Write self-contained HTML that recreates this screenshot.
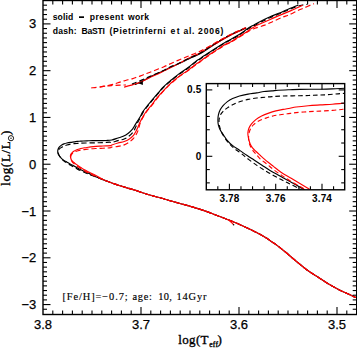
<!DOCTYPE html>
<html><head><meta charset="utf-8"><style>
html,body{margin:0;padding:0;background:#fff;}
svg{display:block;}
</style></head><body>
<svg width="357" height="348" viewBox="0 0 357 348"><defs><clipPath id="cm"><rect x="43.0" y="0.5" width="313.7" height="314.0"/></clipPath><clipPath id="ci"><rect x="206.3" y="83.6" width="138.39999999999998" height="106.20000000000002"/></clipPath></defs><rect width="357" height="348" fill="#fff"/><path d="M357.50,297.60C357.10,297.53 356.25,297.63 355.10,297.20C353.95,296.77 353.22,296.22 350.60,295.00C347.98,293.78 343.13,291.77 339.40,289.90C335.67,288.03 331.67,285.87 328.20,283.80C324.73,281.73 322.07,279.77 318.60,277.50C315.13,275.23 311.13,272.92 307.40,270.20C303.67,267.48 299.93,264.28 296.20,261.20C292.47,258.12 288.03,254.22 285.00,251.70C281.97,249.18 280.10,247.68 278.00,246.10C275.90,244.52 274.27,243.52 272.40,242.20C270.53,240.88 268.67,239.42 266.80,238.20C264.93,236.98 263.07,235.92 261.20,234.90C259.33,233.88 257.47,233.03 255.60,232.10C253.73,231.17 253.03,230.73 250.00,229.30C246.97,227.87 241.37,225.22 237.40,223.50C233.43,221.78 229.93,220.47 226.20,219.00C222.47,217.53 218.20,215.93 215.00,214.70C211.80,213.47 210.67,212.87 207.00,211.60C203.33,210.33 197.67,208.50 193.00,207.10C188.33,205.70 182.83,204.27 179.00,203.20C175.17,202.13 172.83,201.52 170.00,200.70C167.17,199.88 165.67,199.33 162.00,198.30C158.33,197.27 152.67,195.90 148.00,194.50C143.33,193.10 138.67,191.37 134.00,189.90C129.33,188.43 123.17,186.67 120.00,185.70C116.83,184.73 116.90,184.75 115.00,184.10C113.10,183.45 110.60,182.55 108.60,181.80C106.60,181.05 105.40,180.57 103.00,179.60C100.60,178.63 96.07,176.78 94.18,175.96C92.29,175.14 92.63,175.13 91.64,174.66C90.65,174.19 89.52,173.72 88.25,173.14C86.98,172.56 85.43,171.83 84.02,171.17C82.61,170.51 81.06,169.83 79.79,169.20C78.52,168.56 77.50,167.96 76.40,167.37C75.30,166.77 74.23,166.17 73.18,165.60C72.14,165.04 71.15,164.55 70.14,163.98C69.12,163.42 68.13,162.82 67.09,162.22C66.04,161.62 64.77,161.00 63.87,160.39C62.97,159.79 62.28,159.18 61.67,158.59C61.06,158.01 60.71,157.49 60.23,156.90C59.75,156.32 59.17,155.68 58.79,155.07C58.41,154.46 58.12,153.85 57.94,153.24C57.77,152.63 57.73,152.01 57.73,151.41C57.73,150.80 57.78,150.20 57.94,149.61C58.11,149.02 58.37,148.39 58.71,147.85C59.04,147.31 59.43,146.85 59.93,146.37C60.44,145.89 61.08,145.37 61.75,144.96C62.42,144.55 63.10,144.23 63.95,143.90C64.81,143.58 65.78,143.25 66.88,142.99C67.97,142.72 69.30,142.50 70.52,142.32C71.73,142.14 73.03,142.05 74.16,141.90C75.28,141.74 76.17,141.52 77.25,141.40C78.33,141.29 79.65,141.27 80.63,141.19C81.62,141.12 81.90,141.02 83.17,140.95C84.44,140.88 86.70,140.82 88.25,140.77C89.81,140.72 90.36,140.69 92.49,140.66C94.62,140.63 98.76,140.62 101.04,140.59C103.32,140.56 104.37,140.59 106.16,140.49C107.95,140.39 109.83,140.41 111.80,140.00C113.77,139.59 116.10,138.62 118.00,138.00C119.90,137.38 121.48,137.10 123.20,136.30C124.92,135.50 126.75,134.40 128.30,133.20C129.85,132.00 131.37,130.48 132.50,129.10C133.63,127.72 134.25,126.28 135.10,124.90C135.95,123.52 136.75,122.17 137.60,120.80C138.45,119.43 139.32,118.23 140.20,116.70C141.08,115.17 141.72,113.42 142.90,111.60C144.08,109.78 146.12,107.30 147.30,105.80C148.48,104.30 148.83,104.00 150.00,102.60C151.17,101.20 152.87,99.10 154.30,97.40C155.73,95.70 157.17,94.07 158.60,92.40C160.03,90.73 161.47,88.90 162.90,87.40C164.33,85.90 165.75,84.67 167.20,83.40C168.65,82.13 169.70,81.35 171.60,79.80C173.50,78.25 176.00,76.02 178.60,74.10C181.20,72.18 184.38,70.38 187.20,68.30C190.02,66.22 193.37,63.20 195.50,61.60C197.63,60.00 198.65,59.62 200.00,58.70C201.35,57.78 201.57,57.47 203.60,56.10C205.63,54.73 209.32,52.37 212.20,50.50C215.08,48.63 218.77,46.25 220.90,44.90C223.03,43.55 223.38,43.32 225.00,42.40C226.62,41.48 228.23,40.70 230.60,39.40C232.97,38.10 236.52,36.28 239.20,34.60C241.88,32.92 244.90,30.57 246.70,29.30C248.50,28.03 248.78,27.73 250.00,27.00C251.22,26.27 252.37,25.77 254.00,24.90C255.63,24.03 257.20,23.12 259.80,21.80C262.40,20.48 266.33,18.47 269.60,17.00C272.87,15.53 276.83,14.08 279.40,13.00C281.97,11.92 283.27,11.25 285.00,10.50C286.73,9.75 287.87,9.30 289.80,8.50C291.73,7.70 295.20,6.25 296.60,5.70C298.00,5.15 297.93,5.28 298.20,5.20" fill="none" stroke="#000" stroke-width="1.15" stroke-linejoin="round" clip-path="url(#cm)"/><path d="M357.50,297.60C357.10,297.53 356.25,297.63 355.10,297.20C353.95,296.77 353.22,296.22 350.60,295.00C347.98,293.78 343.13,291.77 339.40,289.90C335.67,288.03 331.67,285.87 328.20,283.80C324.73,281.73 322.07,279.77 318.60,277.50C315.13,275.23 311.13,272.92 307.40,270.20C303.67,267.48 299.93,264.28 296.20,261.20C292.47,258.12 288.03,254.22 285.00,251.70C281.97,249.18 280.10,247.68 278.00,246.10C275.90,244.52 274.27,243.52 272.40,242.20C270.53,240.88 268.67,239.42 266.80,238.20C264.93,236.98 263.07,235.92 261.20,234.90C259.33,233.88 257.47,233.03 255.60,232.10C253.73,231.17 253.03,230.73 250.00,229.30C246.97,227.87 241.37,225.22 237.40,223.50C233.43,221.78 229.93,220.47 226.20,219.00C222.47,217.53 218.20,215.93 215.00,214.70C211.80,213.47 210.67,212.87 207.00,211.60C203.33,210.33 197.67,208.50 193.00,207.10C188.33,205.70 182.83,204.27 179.00,203.20C175.17,202.13 172.83,201.52 170.00,200.70C167.17,199.88 165.67,199.33 162.00,198.30C158.33,197.27 152.67,195.90 148.00,194.50C143.33,193.10 138.67,191.37 134.00,189.90C129.33,188.43 123.17,186.67 120.00,185.70C116.83,184.73 116.90,184.75 115.00,184.10C113.10,183.45 110.60,182.55 108.60,181.80C106.60,181.05 105.76,180.64 103.00,179.60C100.24,178.56 94.44,176.47 92.06,175.57C89.69,174.67 89.71,174.59 88.76,174.20C87.82,173.81 87.17,173.54 86.39,173.21C85.61,172.89 84.99,172.65 84.10,172.26C83.22,171.87 82.17,171.41 81.06,170.89C79.94,170.37 78.53,169.69 77.42,169.13C76.30,168.56 75.48,168.14 74.37,167.51C73.25,166.87 71.84,166.03 70.73,165.32C69.61,164.62 68.70,163.93 67.68,163.28C66.66,162.63 65.50,162.05 64.59,161.41C63.68,160.78 62.92,160.14 62.22,159.47C61.52,158.81 60.93,158.12 60.40,157.43C59.87,156.74 59.39,156.02 59.04,155.32C58.70,154.61 58.46,153.88 58.32,153.20C58.19,152.53 58.16,151.87 58.24,151.27C58.32,150.67 58.55,150.09 58.83,149.61C59.11,149.13 59.45,148.78 59.93,148.38C60.42,147.97 61.08,147.56 61.75,147.18C62.42,146.80 63.10,146.45 63.95,146.09C64.81,145.73 65.78,145.35 66.88,145.03C67.97,144.71 69.30,144.41 70.52,144.19C71.73,143.96 72.96,143.82 74.16,143.69C75.35,143.56 76.59,143.49 77.67,143.41C78.75,143.33 79.29,143.27 80.63,143.20C81.98,143.13 83.78,143.04 85.76,142.99C87.73,142.94 90.42,142.92 92.49,142.88C94.55,142.84 96.26,142.80 98.16,142.74C100.06,142.68 101.98,142.63 103.87,142.53C105.77,142.43 108.23,142.15 109.55,142.14C110.87,142.14 110.39,142.76 111.80,142.50C113.21,142.24 115.93,141.18 118.00,140.60C120.07,140.02 122.30,139.80 124.20,139.00C126.10,138.20 127.85,137.05 129.40,135.80C130.95,134.55 132.47,132.93 133.50,131.50C134.53,130.07 135.02,128.45 135.60,127.20C136.18,125.95 136.57,124.93 137.00,124.00C137.43,123.07 137.60,122.73 138.20,121.60C138.80,120.47 139.77,118.77 140.60,117.20C141.43,115.63 142.05,114.02 143.20,112.20C144.35,110.38 146.33,107.83 147.50,106.30C148.67,104.77 149.03,104.42 150.20,103.00C151.37,101.58 153.07,99.50 154.50,97.80C155.93,96.10 157.37,94.47 158.80,92.80C160.23,91.13 161.67,89.30 163.10,87.80C164.53,86.30 165.95,85.07 167.40,83.80C168.85,82.53 169.90,81.75 171.80,80.20C173.70,78.65 176.20,76.42 178.80,74.50C181.40,72.58 184.58,70.78 187.40,68.70C190.22,66.62 193.57,63.60 195.70,62.00C197.83,60.40 198.85,60.02 200.20,59.10C201.55,58.18 201.77,57.87 203.80,56.50C205.83,55.13 209.52,52.77 212.40,50.90C215.28,49.03 218.97,46.65 221.10,45.30C223.23,43.95 223.58,43.72 225.20,42.80C226.82,41.88 228.43,41.10 230.80,39.80C233.17,38.50 236.72,36.67 239.40,35.00C242.08,33.33 245.10,31.02 246.90,29.80C248.70,28.58 248.98,28.38 250.20,27.70C251.42,27.02 252.57,26.55 254.20,25.70C255.83,24.85 257.40,23.92 260.00,22.60C262.60,21.28 266.53,19.27 269.80,17.80C273.07,16.33 277.03,14.88 279.60,13.80C282.17,12.72 283.47,12.07 285.20,11.30C286.93,10.53 288.03,10.02 290.00,9.20C291.97,8.38 294.92,7.10 297.00,6.40C299.08,5.70 300.80,5.33 302.50,5.00C304.20,4.67 306.42,4.50 307.20,4.40" fill="none" stroke="#000" stroke-width="1.15" stroke-linejoin="round" stroke-dasharray="5.2,2.9" clip-path="url(#cm)"/><path d="M357.50,297.60C357.10,297.53 356.25,297.63 355.10,297.20C353.95,296.77 353.22,296.22 350.60,295.00C347.98,293.78 343.13,291.77 339.40,289.90C335.67,288.03 331.67,285.87 328.20,283.80C324.73,281.73 322.07,279.77 318.60,277.50C315.13,275.23 311.13,272.92 307.40,270.20C303.67,267.48 299.93,264.28 296.20,261.20C292.47,258.12 288.03,254.22 285.00,251.70C281.97,249.18 280.10,247.68 278.00,246.10C275.90,244.52 274.27,243.52 272.40,242.20C270.53,240.88 268.67,239.42 266.80,238.20C264.93,236.98 263.07,235.92 261.20,234.90C259.33,233.88 257.47,233.03 255.60,232.10C253.73,231.17 253.03,230.73 250.00,229.30C246.97,227.87 241.37,225.22 237.40,223.50C233.43,221.78 229.93,220.47 226.20,219.00C222.47,217.53 218.20,215.93 215.00,214.70C211.80,213.47 210.67,212.87 207.00,211.60C203.33,210.33 197.67,208.50 193.00,207.10C188.33,205.70 182.83,204.27 179.00,203.20C175.17,202.13 172.83,201.52 170.00,200.70C167.17,199.88 165.67,199.33 162.00,198.30C158.33,197.27 152.67,195.90 148.00,194.50C143.33,193.10 138.67,191.37 134.00,189.90C129.33,188.43 123.17,186.67 120.00,185.70C116.83,184.73 116.90,184.75 115.00,184.10C113.10,183.45 110.60,182.55 108.60,181.80C106.60,181.05 105.04,180.61 103.00,179.60C100.96,178.59 97.92,176.59 96.34,175.71C94.76,174.84 94.77,174.96 93.50,174.34C92.24,173.72 90.27,172.73 88.76,171.98C87.25,171.23 85.69,170.53 84.44,169.83C83.19,169.13 82.15,168.36 81.27,167.79C80.39,167.22 79.77,166.82 79.15,166.41C78.53,166.00 78.11,165.73 77.54,165.32C76.97,164.91 76.33,164.41 75.72,163.95C75.12,163.48 74.46,162.99 73.90,162.54C73.35,162.09 72.79,161.69 72.38,161.27C71.97,160.85 71.70,160.47 71.45,160.00C71.19,159.54 71.01,158.98 70.85,158.49C70.70,158.00 70.59,157.52 70.52,157.08C70.45,156.64 70.38,156.30 70.43,155.85C70.49,155.39 70.60,154.84 70.85,154.33C71.11,153.83 71.47,153.32 71.96,152.82C72.44,152.31 73.06,151.77 73.78,151.30C74.49,150.84 75.32,150.42 76.23,150.03C77.14,149.65 78.23,149.31 79.24,149.01C80.25,148.71 81.27,148.45 82.28,148.24C83.30,148.02 84.34,147.87 85.33,147.71C86.33,147.55 87.34,147.43 88.25,147.29C89.17,147.15 89.55,147.01 90.84,146.86C92.12,146.72 94.26,146.53 95.96,146.41C97.66,146.28 99.34,146.21 101.04,146.12C102.74,146.04 104.54,145.97 106.16,145.88C107.78,145.78 109.79,145.71 110.73,145.56C111.67,145.41 110.59,145.43 111.80,145.00C113.01,144.57 115.93,143.58 118.00,143.00C120.07,142.42 122.30,142.18 124.20,141.50C126.10,140.82 127.85,139.93 129.40,138.90C130.95,137.87 132.38,136.60 133.50,135.30C134.62,134.00 135.32,132.57 136.10,131.10C136.88,129.63 137.52,128.05 138.20,126.50C138.88,124.95 139.35,123.53 140.20,121.80C141.05,120.07 142.35,117.73 143.30,116.10C144.25,114.47 144.82,113.50 145.90,112.00C146.98,110.50 148.83,108.27 149.80,107.10C150.77,105.93 150.67,106.32 151.70,105.00C152.73,103.68 154.57,101.02 156.00,99.20C157.43,97.38 158.85,95.75 160.30,94.10C161.75,92.45 163.12,90.97 164.70,89.30C166.28,87.63 168.08,85.70 169.80,84.10C171.52,82.50 173.53,80.95 175.00,79.70C176.47,78.45 176.57,78.07 178.60,76.60C180.63,75.13 184.38,72.92 187.20,70.90C190.02,68.88 193.37,66.07 195.50,64.50C197.63,62.93 198.65,62.45 200.00,61.50C201.35,60.55 201.57,60.25 203.60,58.80C205.63,57.35 209.32,54.73 212.20,52.80C215.08,50.87 218.77,48.57 220.90,47.20C223.03,45.83 223.38,45.48 225.00,44.60C226.62,43.72 228.23,43.25 230.60,41.90C232.97,40.55 236.32,38.33 239.20,36.50C242.08,34.67 246.02,32.15 247.90,30.90C249.78,29.65 249.48,29.67 250.50,29.00C251.52,28.33 252.45,27.72 254.00,26.90C255.55,26.08 257.20,25.30 259.80,24.10C262.40,22.90 266.33,21.15 269.60,19.70C272.87,18.25 277.33,16.28 279.40,15.40C281.47,14.52 280.07,15.20 282.00,14.40C283.93,13.60 288.57,11.65 291.00,10.60C293.43,9.55 294.65,8.98 296.60,8.10C298.55,7.22 301.68,5.77 302.70,5.30" fill="none" stroke="#f00" stroke-width="1.15" stroke-linejoin="round" clip-path="url(#cm)"/><path d="M357.50,297.60C357.10,297.53 356.25,297.63 355.10,297.20C353.95,296.77 353.22,296.22 350.60,295.00C347.98,293.78 343.13,291.77 339.40,289.90C335.67,288.03 331.67,285.87 328.20,283.80C324.73,281.73 322.07,279.77 318.60,277.50C315.13,275.23 311.13,272.92 307.40,270.20C303.67,267.48 299.93,264.28 296.20,261.20C292.47,258.12 288.03,254.22 285.00,251.70C281.97,249.18 280.10,247.68 278.00,246.10C275.90,244.52 274.27,243.52 272.40,242.20C270.53,240.88 268.67,239.42 266.80,238.20C264.93,236.98 263.07,235.92 261.20,234.90C259.33,233.88 257.47,233.03 255.60,232.10C253.73,231.17 253.03,230.73 250.00,229.30C246.97,227.87 241.37,225.22 237.40,223.50C233.43,221.78 229.93,220.47 226.20,219.00C222.47,217.53 218.20,215.93 215.00,214.70C211.80,213.47 210.67,212.87 207.00,211.60C203.33,210.33 197.67,208.50 193.00,207.10C188.33,205.70 182.83,204.27 179.00,203.20C175.17,202.13 172.83,201.52 170.00,200.70C167.17,199.88 165.67,199.33 162.00,198.30C158.33,197.27 152.67,195.90 148.00,194.50C143.33,193.10 138.67,191.37 134.00,189.90C129.33,188.43 123.17,186.67 120.00,185.70C116.83,184.73 116.90,184.75 115.00,184.10C113.10,183.45 110.60,182.55 108.60,181.80C106.60,181.05 105.30,180.56 103.00,179.60C100.70,178.64 96.71,176.88 94.82,176.03C92.92,175.18 92.87,175.08 91.64,174.48C90.41,173.88 88.60,173.02 87.45,172.44C86.30,171.85 85.75,171.53 84.74,170.96C83.73,170.38 82.43,169.64 81.40,168.99C80.36,168.33 79.48,167.66 78.52,167.01C77.55,166.37 76.37,165.70 75.60,165.11C74.83,164.52 74.43,164.00 73.90,163.49C73.37,162.98 72.84,162.54 72.42,162.05C72.00,161.55 71.67,161.06 71.41,160.53C71.14,160.00 70.93,159.45 70.81,158.88C70.70,158.30 70.69,157.61 70.73,157.08C70.76,156.54 70.87,156.13 71.02,155.67C71.18,155.21 71.36,154.77 71.66,154.33C71.96,153.90 72.29,153.49 72.84,153.06C73.40,152.64 74.14,152.18 75.00,151.80C75.87,151.41 77.04,151.07 78.05,150.77C79.06,150.48 80.05,150.23 81.06,150.03C82.07,149.83 83.09,149.71 84.10,149.58C85.12,149.45 86.03,149.38 87.15,149.26C88.27,149.14 89.37,148.96 90.84,148.84C92.30,148.71 94.26,148.61 95.96,148.52C97.66,148.43 99.34,148.38 101.04,148.31C102.74,148.23 104.54,148.17 106.16,148.06C107.78,147.96 109.79,147.83 110.73,147.67C111.67,147.51 110.59,147.31 111.80,147.10C113.01,146.89 115.93,146.77 118.00,146.40C120.07,146.03 122.30,145.63 124.20,144.90C126.10,144.17 127.85,143.08 129.40,142.00C130.95,140.92 132.30,139.78 133.50,138.40C134.70,137.02 135.82,135.08 136.60,133.70C137.38,132.32 137.77,131.30 138.20,130.10C138.63,128.90 138.80,127.85 139.20,126.50C139.60,125.15 139.87,123.70 140.60,122.00C141.33,120.30 142.67,117.93 143.60,116.30C144.53,114.67 145.12,113.70 146.20,112.20C147.28,110.70 149.13,108.47 150.10,107.30C151.07,106.13 150.97,106.52 152.00,105.20C153.03,103.88 154.87,101.22 156.30,99.40C157.73,97.58 159.15,95.95 160.60,94.30C162.05,92.65 163.42,91.17 165.00,89.50C166.58,87.83 168.38,85.90 170.10,84.30C171.82,82.70 173.83,81.15 175.30,79.90C176.77,78.65 176.87,78.27 178.90,76.80C180.93,75.33 184.68,73.12 187.50,71.10C190.32,69.08 193.67,66.27 195.80,64.70C197.93,63.13 198.95,62.65 200.30,61.70C201.65,60.75 201.87,60.45 203.90,59.00C205.93,57.55 209.62,54.93 212.50,53.00C215.38,51.07 219.07,48.77 221.20,47.40C223.33,46.03 223.68,45.67 225.30,44.80C226.92,43.93 228.53,43.52 230.90,42.20C233.27,40.88 236.62,38.68 239.50,36.90C242.38,35.12 246.28,32.65 248.20,31.50C250.12,30.35 249.87,30.53 251.00,30.00C252.13,29.47 252.72,29.12 255.00,28.30C257.28,27.48 261.78,26.20 264.70,25.10C267.62,24.00 269.62,22.98 272.50,21.70C275.38,20.42 279.30,18.52 282.00,17.40C284.70,16.28 286.27,16.03 288.70,15.00C291.13,13.97 293.98,12.40 296.60,11.20C299.22,10.00 301.78,8.95 304.40,7.80C307.02,6.65 310.70,5.00 312.30,4.30C313.90,3.60 313.72,3.72 314.00,3.60" fill="none" stroke="#f00" stroke-width="1.15" stroke-linejoin="round" stroke-dasharray="5.2,2.9" clip-path="url(#cm)"/><path d="M134.80,84.60C135.47,84.30 137.50,83.40 138.80,82.80C140.10,82.20 141.20,81.73 142.60,81.00C144.00,80.27 145.63,79.25 147.20,78.40C148.77,77.55 150.22,76.77 152.00,75.90C153.78,75.03 155.90,74.08 157.90,73.20C159.90,72.32 161.98,71.57 164.00,70.60C166.02,69.63 167.67,68.50 170.00,67.40C172.33,66.30 175.13,65.30 178.00,64.00C180.87,62.70 184.87,60.72 187.20,59.60C189.53,58.48 189.87,58.28 192.00,57.30C194.13,56.32 196.63,55.60 200.00,53.70C203.37,51.80 208.53,48.22 212.20,45.90C215.87,43.58 218.93,41.62 222.00,39.80C225.07,37.98 227.73,36.47 230.60,35.00C233.47,33.53 236.60,32.18 239.20,31.00C241.80,29.82 245.03,28.42 246.20,27.90" fill="none" stroke="#000" stroke-width="1.15" stroke-linejoin="round" clip-path="url(#cm)"/><path d="M124.10,87.10C125.15,86.82 128.62,85.92 130.40,85.40C132.18,84.88 133.40,84.42 134.80,84.00C136.20,83.58 137.43,83.38 138.80,82.90C140.17,82.42 141.60,81.73 143.00,81.10C144.40,80.47 145.70,79.85 147.20,79.10C148.70,78.35 150.22,77.45 152.00,76.60C153.78,75.75 155.95,74.92 157.90,74.00C159.85,73.08 161.78,72.05 163.70,71.10C165.62,70.15 167.02,69.50 169.40,68.30C171.78,67.10 174.23,65.85 178.00,63.90C181.77,61.95 188.33,58.43 192.00,56.60C195.67,54.77 196.63,54.73 200.00,52.90C203.37,51.07 208.53,47.77 212.20,45.60C215.87,43.43 218.93,41.63 222.00,39.90C225.07,38.17 227.73,36.65 230.60,35.20C233.47,33.75 236.63,32.40 239.20,31.20C241.77,30.00 244.87,28.53 246.00,28.00" fill="none" stroke="#f00" stroke-width="1.15" stroke-linejoin="round" clip-path="url(#cm)"/><path d="M131.90,84.00C132.38,83.83 133.67,83.43 134.80,83.00C135.93,82.57 137.07,82.10 138.70,81.40C140.33,80.70 142.72,79.63 144.60,78.80C146.48,77.97 147.78,77.37 150.00,76.40C152.22,75.43 155.57,74.02 157.90,73.00C160.23,71.98 161.98,71.28 164.00,70.30C166.02,69.32 167.67,68.20 170.00,67.10C172.33,66.00 175.13,65.02 178.00,63.70C180.87,62.38 184.87,60.32 187.20,59.20C189.53,58.08 189.87,58.00 192.00,57.00C194.13,56.00 196.63,55.13 200.00,53.20C203.37,51.27 208.53,47.70 212.20,45.40C215.87,43.10 218.93,41.18 222.00,39.40C225.07,37.62 227.73,36.13 230.60,34.70C233.47,33.27 236.63,31.97 239.20,30.80C241.77,29.63 244.87,28.22 246.00,27.70" fill="none" stroke="#000" stroke-width="1.15" stroke-linejoin="round" stroke-dasharray="5.2,2.9" clip-path="url(#cm)"/><path d="M100.00,87.10C101.00,86.92 104.03,86.42 106.00,86.00C107.97,85.58 110.18,85.02 111.80,84.60C113.42,84.18 114.33,83.92 115.70,83.50C117.07,83.08 118.60,82.53 120.00,82.10C121.40,81.67 122.77,81.30 124.10,80.90C125.43,80.50 126.55,80.08 128.00,79.70C129.45,79.32 131.33,79.03 132.80,78.60C134.27,78.17 135.48,77.55 136.80,77.10C138.12,76.65 139.33,76.40 140.70,75.90C142.07,75.40 143.45,74.70 145.00,74.10C146.55,73.50 148.00,73.07 150.00,72.30C152.00,71.53 154.67,70.43 157.00,69.50C159.33,68.57 161.67,67.70 164.00,66.70C166.33,65.70 168.67,64.55 171.00,63.50C173.33,62.45 175.67,61.40 178.00,60.40C180.33,59.40 182.67,58.47 185.00,57.50C187.33,56.53 189.50,55.63 192.00,54.60C194.50,53.57 196.63,52.97 200.00,51.30C203.37,49.63 208.53,46.65 212.20,44.60C215.87,42.55 218.93,40.70 222.00,39.00C225.07,37.30 227.73,35.82 230.60,34.40C233.47,32.98 236.67,31.67 239.20,30.50C241.73,29.33 244.70,27.92 245.80,27.40" fill="none" stroke="#f00" stroke-width="1.15" stroke-linejoin="round" stroke-dasharray="5.2,2.9" clip-path="url(#cm)"/><path d="M91.30,87.90C92.38,87.78 95.55,87.50 97.80,87.20C100.05,86.90 102.35,86.38 104.80,86.10C107.25,85.82 109.93,85.67 112.50,85.50C115.07,85.33 117.95,85.18 120.20,85.10C122.45,85.02 125.03,85.02 126.00,85.00" fill="none" stroke="#f00" stroke-width="1.15" stroke-linejoin="round" stroke-dasharray="5.2,2.9" clip-path="url(#cm)"/><path d="M228.20,219.60C228.67,220.02 230.12,221.28 231.00,222.10C231.88,222.92 233.08,224.10 233.50,224.50" fill="none" stroke="#f00" stroke-width="1.1" stroke-linejoin="round"/><circle cx="233.6" cy="224.7" r="0.8" fill="#000"/><path d="M138.3,83.3 L142.9,81.0 L142.9,85.0 Z" fill="#000"/><rect x="43.0" y="0.5" width="313.7" height="314.0" fill="none" stroke="#000" stroke-width="1.4"/><line x1="43.00" y1="309.25" x2="47.00" y2="309.25" stroke="#000" stroke-width="1.1"/><line x1="356.70" y1="309.25" x2="352.70" y2="309.25" stroke="#000" stroke-width="1.1"/><line x1="43.00" y1="304.57" x2="50.50" y2="304.57" stroke="#000" stroke-width="1.1"/><line x1="356.70" y1="304.57" x2="349.20" y2="304.57" stroke="#000" stroke-width="1.1"/><line x1="43.00" y1="299.89" x2="47.00" y2="299.89" stroke="#000" stroke-width="1.1"/><line x1="356.70" y1="299.89" x2="352.70" y2="299.89" stroke="#000" stroke-width="1.1"/><line x1="43.00" y1="295.21" x2="47.00" y2="295.21" stroke="#000" stroke-width="1.1"/><line x1="356.70" y1="295.21" x2="352.70" y2="295.21" stroke="#000" stroke-width="1.1"/><line x1="43.00" y1="290.54" x2="47.00" y2="290.54" stroke="#000" stroke-width="1.1"/><line x1="356.70" y1="290.54" x2="352.70" y2="290.54" stroke="#000" stroke-width="1.1"/><line x1="43.00" y1="285.86" x2="47.00" y2="285.86" stroke="#000" stroke-width="1.1"/><line x1="356.70" y1="285.86" x2="352.70" y2="285.86" stroke="#000" stroke-width="1.1"/><line x1="43.00" y1="281.18" x2="47.00" y2="281.18" stroke="#000" stroke-width="1.1"/><line x1="356.70" y1="281.18" x2="352.70" y2="281.18" stroke="#000" stroke-width="1.1"/><line x1="43.00" y1="276.50" x2="47.00" y2="276.50" stroke="#000" stroke-width="1.1"/><line x1="356.70" y1="276.50" x2="352.70" y2="276.50" stroke="#000" stroke-width="1.1"/><line x1="43.00" y1="271.82" x2="47.00" y2="271.82" stroke="#000" stroke-width="1.1"/><line x1="356.70" y1="271.82" x2="352.70" y2="271.82" stroke="#000" stroke-width="1.1"/><line x1="43.00" y1="267.15" x2="47.00" y2="267.15" stroke="#000" stroke-width="1.1"/><line x1="356.70" y1="267.15" x2="352.70" y2="267.15" stroke="#000" stroke-width="1.1"/><line x1="43.00" y1="262.47" x2="47.00" y2="262.47" stroke="#000" stroke-width="1.1"/><line x1="356.70" y1="262.47" x2="352.70" y2="262.47" stroke="#000" stroke-width="1.1"/><line x1="43.00" y1="257.79" x2="50.50" y2="257.79" stroke="#000" stroke-width="1.1"/><line x1="356.70" y1="257.79" x2="349.20" y2="257.79" stroke="#000" stroke-width="1.1"/><line x1="43.00" y1="253.11" x2="47.00" y2="253.11" stroke="#000" stroke-width="1.1"/><line x1="356.70" y1="253.11" x2="352.70" y2="253.11" stroke="#000" stroke-width="1.1"/><line x1="43.00" y1="248.43" x2="47.00" y2="248.43" stroke="#000" stroke-width="1.1"/><line x1="356.70" y1="248.43" x2="352.70" y2="248.43" stroke="#000" stroke-width="1.1"/><line x1="43.00" y1="243.76" x2="47.00" y2="243.76" stroke="#000" stroke-width="1.1"/><line x1="356.70" y1="243.76" x2="352.70" y2="243.76" stroke="#000" stroke-width="1.1"/><line x1="43.00" y1="239.08" x2="47.00" y2="239.08" stroke="#000" stroke-width="1.1"/><line x1="356.70" y1="239.08" x2="352.70" y2="239.08" stroke="#000" stroke-width="1.1"/><line x1="43.00" y1="234.40" x2="47.00" y2="234.40" stroke="#000" stroke-width="1.1"/><line x1="356.70" y1="234.40" x2="352.70" y2="234.40" stroke="#000" stroke-width="1.1"/><line x1="43.00" y1="229.72" x2="47.00" y2="229.72" stroke="#000" stroke-width="1.1"/><line x1="356.70" y1="229.72" x2="352.70" y2="229.72" stroke="#000" stroke-width="1.1"/><line x1="43.00" y1="225.04" x2="47.00" y2="225.04" stroke="#000" stroke-width="1.1"/><line x1="356.70" y1="225.04" x2="352.70" y2="225.04" stroke="#000" stroke-width="1.1"/><line x1="43.00" y1="220.37" x2="47.00" y2="220.37" stroke="#000" stroke-width="1.1"/><line x1="356.70" y1="220.37" x2="352.70" y2="220.37" stroke="#000" stroke-width="1.1"/><line x1="43.00" y1="215.69" x2="47.00" y2="215.69" stroke="#000" stroke-width="1.1"/><line x1="356.70" y1="215.69" x2="352.70" y2="215.69" stroke="#000" stroke-width="1.1"/><line x1="43.00" y1="211.01" x2="50.50" y2="211.01" stroke="#000" stroke-width="1.1"/><line x1="356.70" y1="211.01" x2="349.20" y2="211.01" stroke="#000" stroke-width="1.1"/><line x1="43.00" y1="206.33" x2="47.00" y2="206.33" stroke="#000" stroke-width="1.1"/><line x1="356.70" y1="206.33" x2="352.70" y2="206.33" stroke="#000" stroke-width="1.1"/><line x1="43.00" y1="201.65" x2="47.00" y2="201.65" stroke="#000" stroke-width="1.1"/><line x1="356.70" y1="201.65" x2="352.70" y2="201.65" stroke="#000" stroke-width="1.1"/><line x1="43.00" y1="196.98" x2="47.00" y2="196.98" stroke="#000" stroke-width="1.1"/><line x1="356.70" y1="196.98" x2="352.70" y2="196.98" stroke="#000" stroke-width="1.1"/><line x1="43.00" y1="192.30" x2="47.00" y2="192.30" stroke="#000" stroke-width="1.1"/><line x1="356.70" y1="192.30" x2="352.70" y2="192.30" stroke="#000" stroke-width="1.1"/><line x1="43.00" y1="187.62" x2="47.00" y2="187.62" stroke="#000" stroke-width="1.1"/><line x1="356.70" y1="187.62" x2="352.70" y2="187.62" stroke="#000" stroke-width="1.1"/><line x1="43.00" y1="182.94" x2="47.00" y2="182.94" stroke="#000" stroke-width="1.1"/><line x1="356.70" y1="182.94" x2="352.70" y2="182.94" stroke="#000" stroke-width="1.1"/><line x1="43.00" y1="178.26" x2="47.00" y2="178.26" stroke="#000" stroke-width="1.1"/><line x1="356.70" y1="178.26" x2="352.70" y2="178.26" stroke="#000" stroke-width="1.1"/><line x1="43.00" y1="173.59" x2="47.00" y2="173.59" stroke="#000" stroke-width="1.1"/><line x1="356.70" y1="173.59" x2="352.70" y2="173.59" stroke="#000" stroke-width="1.1"/><line x1="43.00" y1="168.91" x2="47.00" y2="168.91" stroke="#000" stroke-width="1.1"/><line x1="356.70" y1="168.91" x2="352.70" y2="168.91" stroke="#000" stroke-width="1.1"/><line x1="43.00" y1="164.23" x2="50.50" y2="164.23" stroke="#000" stroke-width="1.1"/><line x1="356.70" y1="164.23" x2="349.20" y2="164.23" stroke="#000" stroke-width="1.1"/><line x1="43.00" y1="159.55" x2="47.00" y2="159.55" stroke="#000" stroke-width="1.1"/><line x1="356.70" y1="159.55" x2="352.70" y2="159.55" stroke="#000" stroke-width="1.1"/><line x1="43.00" y1="154.87" x2="47.00" y2="154.87" stroke="#000" stroke-width="1.1"/><line x1="356.70" y1="154.87" x2="352.70" y2="154.87" stroke="#000" stroke-width="1.1"/><line x1="43.00" y1="150.20" x2="47.00" y2="150.20" stroke="#000" stroke-width="1.1"/><line x1="356.70" y1="150.20" x2="352.70" y2="150.20" stroke="#000" stroke-width="1.1"/><line x1="43.00" y1="145.52" x2="47.00" y2="145.52" stroke="#000" stroke-width="1.1"/><line x1="356.70" y1="145.52" x2="352.70" y2="145.52" stroke="#000" stroke-width="1.1"/><line x1="43.00" y1="140.84" x2="47.00" y2="140.84" stroke="#000" stroke-width="1.1"/><line x1="356.70" y1="140.84" x2="352.70" y2="140.84" stroke="#000" stroke-width="1.1"/><line x1="43.00" y1="136.16" x2="47.00" y2="136.16" stroke="#000" stroke-width="1.1"/><line x1="356.70" y1="136.16" x2="352.70" y2="136.16" stroke="#000" stroke-width="1.1"/><line x1="43.00" y1="131.48" x2="47.00" y2="131.48" stroke="#000" stroke-width="1.1"/><line x1="356.70" y1="131.48" x2="352.70" y2="131.48" stroke="#000" stroke-width="1.1"/><line x1="43.00" y1="126.81" x2="47.00" y2="126.81" stroke="#000" stroke-width="1.1"/><line x1="356.70" y1="126.81" x2="352.70" y2="126.81" stroke="#000" stroke-width="1.1"/><line x1="43.00" y1="122.13" x2="47.00" y2="122.13" stroke="#000" stroke-width="1.1"/><line x1="356.70" y1="122.13" x2="352.70" y2="122.13" stroke="#000" stroke-width="1.1"/><line x1="43.00" y1="117.45" x2="50.50" y2="117.45" stroke="#000" stroke-width="1.1"/><line x1="356.70" y1="117.45" x2="349.20" y2="117.45" stroke="#000" stroke-width="1.1"/><line x1="43.00" y1="112.77" x2="47.00" y2="112.77" stroke="#000" stroke-width="1.1"/><line x1="356.70" y1="112.77" x2="352.70" y2="112.77" stroke="#000" stroke-width="1.1"/><line x1="43.00" y1="108.09" x2="47.00" y2="108.09" stroke="#000" stroke-width="1.1"/><line x1="356.70" y1="108.09" x2="352.70" y2="108.09" stroke="#000" stroke-width="1.1"/><line x1="43.00" y1="103.42" x2="47.00" y2="103.42" stroke="#000" stroke-width="1.1"/><line x1="356.70" y1="103.42" x2="352.70" y2="103.42" stroke="#000" stroke-width="1.1"/><line x1="43.00" y1="98.74" x2="47.00" y2="98.74" stroke="#000" stroke-width="1.1"/><line x1="356.70" y1="98.74" x2="352.70" y2="98.74" stroke="#000" stroke-width="1.1"/><line x1="43.00" y1="94.06" x2="47.00" y2="94.06" stroke="#000" stroke-width="1.1"/><line x1="356.70" y1="94.06" x2="352.70" y2="94.06" stroke="#000" stroke-width="1.1"/><line x1="43.00" y1="89.38" x2="47.00" y2="89.38" stroke="#000" stroke-width="1.1"/><line x1="356.70" y1="89.38" x2="352.70" y2="89.38" stroke="#000" stroke-width="1.1"/><line x1="43.00" y1="84.70" x2="47.00" y2="84.70" stroke="#000" stroke-width="1.1"/><line x1="356.70" y1="84.70" x2="352.70" y2="84.70" stroke="#000" stroke-width="1.1"/><line x1="43.00" y1="80.03" x2="47.00" y2="80.03" stroke="#000" stroke-width="1.1"/><line x1="356.70" y1="80.03" x2="352.70" y2="80.03" stroke="#000" stroke-width="1.1"/><line x1="43.00" y1="75.35" x2="47.00" y2="75.35" stroke="#000" stroke-width="1.1"/><line x1="356.70" y1="75.35" x2="352.70" y2="75.35" stroke="#000" stroke-width="1.1"/><line x1="43.00" y1="70.67" x2="50.50" y2="70.67" stroke="#000" stroke-width="1.1"/><line x1="356.70" y1="70.67" x2="349.20" y2="70.67" stroke="#000" stroke-width="1.1"/><line x1="43.00" y1="65.99" x2="47.00" y2="65.99" stroke="#000" stroke-width="1.1"/><line x1="356.70" y1="65.99" x2="352.70" y2="65.99" stroke="#000" stroke-width="1.1"/><line x1="43.00" y1="61.31" x2="47.00" y2="61.31" stroke="#000" stroke-width="1.1"/><line x1="356.70" y1="61.31" x2="352.70" y2="61.31" stroke="#000" stroke-width="1.1"/><line x1="43.00" y1="56.64" x2="47.00" y2="56.64" stroke="#000" stroke-width="1.1"/><line x1="356.70" y1="56.64" x2="352.70" y2="56.64" stroke="#000" stroke-width="1.1"/><line x1="43.00" y1="51.96" x2="47.00" y2="51.96" stroke="#000" stroke-width="1.1"/><line x1="356.70" y1="51.96" x2="352.70" y2="51.96" stroke="#000" stroke-width="1.1"/><line x1="43.00" y1="47.28" x2="47.00" y2="47.28" stroke="#000" stroke-width="1.1"/><line x1="356.70" y1="47.28" x2="352.70" y2="47.28" stroke="#000" stroke-width="1.1"/><line x1="43.00" y1="42.60" x2="47.00" y2="42.60" stroke="#000" stroke-width="1.1"/><line x1="356.70" y1="42.60" x2="352.70" y2="42.60" stroke="#000" stroke-width="1.1"/><line x1="43.00" y1="37.92" x2="47.00" y2="37.92" stroke="#000" stroke-width="1.1"/><line x1="356.70" y1="37.92" x2="352.70" y2="37.92" stroke="#000" stroke-width="1.1"/><line x1="43.00" y1="33.25" x2="47.00" y2="33.25" stroke="#000" stroke-width="1.1"/><line x1="356.70" y1="33.25" x2="352.70" y2="33.25" stroke="#000" stroke-width="1.1"/><line x1="43.00" y1="28.57" x2="47.00" y2="28.57" stroke="#000" stroke-width="1.1"/><line x1="356.70" y1="28.57" x2="352.70" y2="28.57" stroke="#000" stroke-width="1.1"/><line x1="43.00" y1="23.89" x2="50.50" y2="23.89" stroke="#000" stroke-width="1.1"/><line x1="356.70" y1="23.89" x2="349.20" y2="23.89" stroke="#000" stroke-width="1.1"/><line x1="43.00" y1="19.21" x2="47.00" y2="19.21" stroke="#000" stroke-width="1.1"/><line x1="356.70" y1="19.21" x2="352.70" y2="19.21" stroke="#000" stroke-width="1.1"/><line x1="43.00" y1="14.53" x2="47.00" y2="14.53" stroke="#000" stroke-width="1.1"/><line x1="356.70" y1="14.53" x2="352.70" y2="14.53" stroke="#000" stroke-width="1.1"/><line x1="43.00" y1="9.86" x2="47.00" y2="9.86" stroke="#000" stroke-width="1.1"/><line x1="356.70" y1="9.86" x2="352.70" y2="9.86" stroke="#000" stroke-width="1.1"/><line x1="43.00" y1="5.18" x2="47.00" y2="5.18" stroke="#000" stroke-width="1.1"/><line x1="356.70" y1="5.18" x2="352.70" y2="5.18" stroke="#000" stroke-width="1.1"/><line x1="346.80" y1="314.50" x2="346.80" y2="310.50" stroke="#000" stroke-width="1.1"/><line x1="346.80" y1="0.50" x2="346.80" y2="4.50" stroke="#000" stroke-width="1.1"/><line x1="337.00" y1="314.50" x2="337.00" y2="307.00" stroke="#000" stroke-width="1.1"/><line x1="337.00" y1="0.50" x2="337.00" y2="8.00" stroke="#000" stroke-width="1.1"/><line x1="327.20" y1="314.50" x2="327.20" y2="310.50" stroke="#000" stroke-width="1.1"/><line x1="327.20" y1="0.50" x2="327.20" y2="4.50" stroke="#000" stroke-width="1.1"/><line x1="317.40" y1="314.50" x2="317.40" y2="310.50" stroke="#000" stroke-width="1.1"/><line x1="317.40" y1="0.50" x2="317.40" y2="4.50" stroke="#000" stroke-width="1.1"/><line x1="307.60" y1="314.50" x2="307.60" y2="310.50" stroke="#000" stroke-width="1.1"/><line x1="307.60" y1="0.50" x2="307.60" y2="4.50" stroke="#000" stroke-width="1.1"/><line x1="297.80" y1="314.50" x2="297.80" y2="310.50" stroke="#000" stroke-width="1.1"/><line x1="297.80" y1="0.50" x2="297.80" y2="4.50" stroke="#000" stroke-width="1.1"/><line x1="288.00" y1="314.50" x2="288.00" y2="310.50" stroke="#000" stroke-width="1.1"/><line x1="288.00" y1="0.50" x2="288.00" y2="4.50" stroke="#000" stroke-width="1.1"/><line x1="278.20" y1="314.50" x2="278.20" y2="310.50" stroke="#000" stroke-width="1.1"/><line x1="278.20" y1="0.50" x2="278.20" y2="4.50" stroke="#000" stroke-width="1.1"/><line x1="268.40" y1="314.50" x2="268.40" y2="310.50" stroke="#000" stroke-width="1.1"/><line x1="268.40" y1="0.50" x2="268.40" y2="4.50" stroke="#000" stroke-width="1.1"/><line x1="258.60" y1="314.50" x2="258.60" y2="310.50" stroke="#000" stroke-width="1.1"/><line x1="258.60" y1="0.50" x2="258.60" y2="4.50" stroke="#000" stroke-width="1.1"/><line x1="248.80" y1="314.50" x2="248.80" y2="310.50" stroke="#000" stroke-width="1.1"/><line x1="248.80" y1="0.50" x2="248.80" y2="4.50" stroke="#000" stroke-width="1.1"/><line x1="239.00" y1="314.50" x2="239.00" y2="307.00" stroke="#000" stroke-width="1.1"/><line x1="239.00" y1="0.50" x2="239.00" y2="8.00" stroke="#000" stroke-width="1.1"/><line x1="229.20" y1="314.50" x2="229.20" y2="310.50" stroke="#000" stroke-width="1.1"/><line x1="229.20" y1="0.50" x2="229.20" y2="4.50" stroke="#000" stroke-width="1.1"/><line x1="219.40" y1="314.50" x2="219.40" y2="310.50" stroke="#000" stroke-width="1.1"/><line x1="219.40" y1="0.50" x2="219.40" y2="4.50" stroke="#000" stroke-width="1.1"/><line x1="209.60" y1="314.50" x2="209.60" y2="310.50" stroke="#000" stroke-width="1.1"/><line x1="209.60" y1="0.50" x2="209.60" y2="4.50" stroke="#000" stroke-width="1.1"/><line x1="199.80" y1="314.50" x2="199.80" y2="310.50" stroke="#000" stroke-width="1.1"/><line x1="199.80" y1="0.50" x2="199.80" y2="4.50" stroke="#000" stroke-width="1.1"/><line x1="190.00" y1="314.50" x2="190.00" y2="310.50" stroke="#000" stroke-width="1.1"/><line x1="190.00" y1="0.50" x2="190.00" y2="4.50" stroke="#000" stroke-width="1.1"/><line x1="180.20" y1="314.50" x2="180.20" y2="310.50" stroke="#000" stroke-width="1.1"/><line x1="180.20" y1="0.50" x2="180.20" y2="4.50" stroke="#000" stroke-width="1.1"/><line x1="170.40" y1="314.50" x2="170.40" y2="310.50" stroke="#000" stroke-width="1.1"/><line x1="170.40" y1="0.50" x2="170.40" y2="4.50" stroke="#000" stroke-width="1.1"/><line x1="160.60" y1="314.50" x2="160.60" y2="310.50" stroke="#000" stroke-width="1.1"/><line x1="160.60" y1="0.50" x2="160.60" y2="4.50" stroke="#000" stroke-width="1.1"/><line x1="150.80" y1="314.50" x2="150.80" y2="310.50" stroke="#000" stroke-width="1.1"/><line x1="150.80" y1="0.50" x2="150.80" y2="4.50" stroke="#000" stroke-width="1.1"/><line x1="141.00" y1="314.50" x2="141.00" y2="307.00" stroke="#000" stroke-width="1.1"/><line x1="141.00" y1="0.50" x2="141.00" y2="8.00" stroke="#000" stroke-width="1.1"/><line x1="131.20" y1="314.50" x2="131.20" y2="310.50" stroke="#000" stroke-width="1.1"/><line x1="131.20" y1="0.50" x2="131.20" y2="4.50" stroke="#000" stroke-width="1.1"/><line x1="121.40" y1="314.50" x2="121.40" y2="310.50" stroke="#000" stroke-width="1.1"/><line x1="121.40" y1="0.50" x2="121.40" y2="4.50" stroke="#000" stroke-width="1.1"/><line x1="111.60" y1="314.50" x2="111.60" y2="310.50" stroke="#000" stroke-width="1.1"/><line x1="111.60" y1="0.50" x2="111.60" y2="4.50" stroke="#000" stroke-width="1.1"/><line x1="101.80" y1="314.50" x2="101.80" y2="310.50" stroke="#000" stroke-width="1.1"/><line x1="101.80" y1="0.50" x2="101.80" y2="4.50" stroke="#000" stroke-width="1.1"/><line x1="92.00" y1="314.50" x2="92.00" y2="310.50" stroke="#000" stroke-width="1.1"/><line x1="92.00" y1="0.50" x2="92.00" y2="4.50" stroke="#000" stroke-width="1.1"/><line x1="82.20" y1="314.50" x2="82.20" y2="310.50" stroke="#000" stroke-width="1.1"/><line x1="82.20" y1="0.50" x2="82.20" y2="4.50" stroke="#000" stroke-width="1.1"/><line x1="72.40" y1="314.50" x2="72.40" y2="310.50" stroke="#000" stroke-width="1.1"/><line x1="72.40" y1="0.50" x2="72.40" y2="4.50" stroke="#000" stroke-width="1.1"/><line x1="62.60" y1="314.50" x2="62.60" y2="310.50" stroke="#000" stroke-width="1.1"/><line x1="62.60" y1="0.50" x2="62.60" y2="4.50" stroke="#000" stroke-width="1.1"/><line x1="52.80" y1="314.50" x2="52.80" y2="310.50" stroke="#000" stroke-width="1.1"/><line x1="52.80" y1="0.50" x2="52.80" y2="4.50" stroke="#000" stroke-width="1.1"/><rect x="206.3" y="83.6" width="138.39999999999998" height="106.20000000000002" fill="#fff" stroke="none"/><path d="M309.00,192.50C308.17,192.02 305.83,190.70 304.00,189.60C302.17,188.50 300.33,187.23 298.00,185.90C295.67,184.57 293.00,183.25 290.00,181.60C287.00,179.95 283.33,177.87 280.00,176.00C276.67,174.13 273.00,172.20 270.00,170.40C267.00,168.60 264.60,166.90 262.00,165.20C259.40,163.50 256.87,161.80 254.40,160.20C251.93,158.60 249.60,157.20 247.20,155.60C244.80,154.00 242.47,152.30 240.00,150.60C237.53,148.90 234.53,147.12 232.40,145.40C230.27,143.68 228.63,141.95 227.20,140.30C225.77,138.65 224.93,137.17 223.80,135.50C222.67,133.83 221.30,132.03 220.40,130.30C219.50,128.57 218.82,126.83 218.40,125.10C217.98,123.37 217.90,121.62 217.90,119.90C217.90,118.18 218.02,116.48 218.40,114.80C218.78,113.12 219.42,111.33 220.20,109.80C220.98,108.27 221.90,106.97 223.10,105.60C224.30,104.23 225.82,102.77 227.40,101.60C228.98,100.43 230.58,99.53 232.60,98.60C234.62,97.67 236.92,96.75 239.50,96.00C242.08,95.25 245.23,94.62 248.10,94.10C250.97,93.58 254.05,93.33 256.70,92.90C259.35,92.47 261.45,91.83 264.00,91.50C266.55,91.17 269.67,91.12 272.00,90.90C274.33,90.68 275.00,90.40 278.00,90.20C281.00,90.00 286.33,89.83 290.00,89.70C293.67,89.57 294.97,89.48 300.00,89.40C305.03,89.32 314.82,89.28 320.20,89.20C325.58,89.12 328.22,89.05 332.30,88.90C336.38,88.75 341.42,88.45 344.70,88.30C347.98,88.15 350.78,88.05 352.00,88.00" fill="none" stroke="#000" stroke-width="1.15" stroke-linejoin="round" clip-path="url(#ci)"/><path d="M303.00,191.50C302.33,191.00 300.97,189.65 299.00,188.50C297.03,187.35 293.43,185.72 291.20,184.60C288.97,183.48 287.43,182.72 285.60,181.80C283.77,180.88 282.30,180.20 280.20,179.10C278.10,178.00 275.63,176.68 273.00,175.20C270.37,173.72 267.03,171.80 264.40,170.20C261.77,168.60 259.83,167.40 257.20,165.60C254.57,163.80 251.23,161.40 248.60,159.40C245.97,157.40 243.82,155.45 241.40,153.60C238.98,151.75 236.25,150.10 234.10,148.30C231.95,146.50 230.15,144.68 228.50,142.80C226.85,140.92 225.45,138.97 224.20,137.00C222.95,135.03 221.82,133.00 221.00,131.00C220.18,129.00 219.62,126.92 219.30,125.00C218.98,123.08 218.90,121.20 219.10,119.50C219.30,117.80 219.83,116.17 220.50,114.80C221.17,113.43 221.95,112.45 223.10,111.30C224.25,110.15 225.82,108.98 227.40,107.90C228.98,106.82 230.58,105.82 232.60,104.80C234.62,103.78 236.92,102.70 239.50,101.80C242.08,100.90 245.23,100.03 248.10,99.40C250.97,98.77 253.88,98.37 256.70,98.00C259.52,97.63 262.45,97.43 265.00,97.20C267.55,96.97 268.82,96.80 272.00,96.60C275.18,96.40 279.43,96.15 284.10,96.00C288.77,95.85 295.12,95.82 300.00,95.70C304.88,95.58 308.92,95.47 313.40,95.30C317.88,95.13 322.42,94.98 326.90,94.70C331.38,94.42 336.12,93.87 340.30,93.60C344.48,93.33 350.05,93.18 352.00,93.10" fill="none" stroke="#000" stroke-width="1.15" stroke-linejoin="round" stroke-dasharray="4.6,2.9" clip-path="url(#ci)"/><path d="M314.00,192.00C313.18,191.48 311.03,190.07 309.10,188.90C307.17,187.73 305.38,186.77 302.40,185.00C299.42,183.23 294.77,180.43 291.20,178.30C287.63,176.17 283.95,174.18 281.00,172.20C278.05,170.22 275.58,168.02 273.50,166.40C271.42,164.78 269.97,163.67 268.50,162.50C267.03,161.33 266.05,160.57 264.70,159.40C263.35,158.23 261.83,156.82 260.40,155.50C258.97,154.18 257.42,152.77 256.10,151.50C254.78,150.23 253.47,149.10 252.50,147.90C251.53,146.70 250.90,145.62 250.30,144.30C249.70,142.98 249.27,141.38 248.90,140.00C248.53,138.62 248.27,137.25 248.10,136.00C247.93,134.75 247.77,133.80 247.90,132.50C248.03,131.20 248.30,129.63 248.90,128.20C249.50,126.77 250.35,125.33 251.50,123.90C252.65,122.47 254.12,120.92 255.80,119.60C257.48,118.28 259.45,117.08 261.60,116.00C263.75,114.92 266.32,113.95 268.70,113.10C271.08,112.25 273.50,111.52 275.90,110.90C278.30,110.28 280.75,109.85 283.10,109.40C285.45,108.95 287.83,108.60 290.00,108.20C292.17,107.80 293.07,107.42 296.10,107.00C299.13,106.58 304.18,106.05 308.20,105.70C312.22,105.35 316.18,105.15 320.20,104.90C324.22,104.65 328.48,104.47 332.30,104.20C336.12,103.93 339.82,103.57 343.10,103.30C346.38,103.03 350.52,102.72 352.00,102.60" fill="none" stroke="#f00" stroke-width="1.15" stroke-linejoin="round" clip-path="url(#ci)"/><path d="M310.00,193.00C309.25,192.47 307.50,191.07 305.50,189.80C303.50,188.53 300.90,187.10 298.00,185.40C295.10,183.70 290.82,181.27 288.10,179.60C285.38,177.93 284.08,177.03 281.70,175.40C279.32,173.77 276.25,171.67 273.80,169.80C271.35,167.93 269.28,166.03 267.00,164.20C264.72,162.37 261.92,160.47 260.10,158.80C258.28,157.13 257.35,155.65 256.10,154.20C254.85,152.75 253.58,151.50 252.60,150.10C251.62,148.70 250.83,147.30 250.20,145.80C249.57,144.30 249.07,142.73 248.80,141.10C248.53,139.47 248.52,137.52 248.60,136.00C248.68,134.48 248.93,133.30 249.30,132.00C249.67,130.70 250.08,129.43 250.80,128.20C251.52,126.97 252.28,125.80 253.60,124.60C254.92,123.40 256.65,122.08 258.70,121.00C260.75,119.92 263.52,118.93 265.90,118.10C268.28,117.27 270.62,116.57 273.00,116.00C275.38,115.43 277.80,115.07 280.20,114.70C282.60,114.33 284.75,114.15 287.40,113.80C290.05,113.45 292.63,112.95 296.10,112.60C299.57,112.25 304.18,111.95 308.20,111.70C312.22,111.45 316.18,111.32 320.20,111.10C324.22,110.88 328.48,110.70 332.30,110.40C336.12,110.10 339.82,109.60 343.10,109.30C346.38,109.00 350.52,108.72 352.00,108.60" fill="none" stroke="#f00" stroke-width="1.15" stroke-linejoin="round" stroke-dasharray="4.6,2.9" clip-path="url(#ci)"/><rect x="206.3" y="83.6" width="138.39999999999998" height="106.20000000000002" fill="none" stroke="#000" stroke-width="1.4"/><line x1="206.30" y1="182.86" x2="209.80" y2="182.86" stroke="#000" stroke-width="1.1"/><line x1="344.70" y1="182.86" x2="341.20" y2="182.86" stroke="#000" stroke-width="1.1"/><line x1="206.30" y1="169.58" x2="209.80" y2="169.58" stroke="#000" stroke-width="1.1"/><line x1="344.70" y1="169.58" x2="341.20" y2="169.58" stroke="#000" stroke-width="1.1"/><line x1="206.30" y1="156.30" x2="212.30" y2="156.30" stroke="#000" stroke-width="1.1"/><line x1="344.70" y1="156.30" x2="338.70" y2="156.30" stroke="#000" stroke-width="1.1"/><line x1="206.30" y1="143.02" x2="209.80" y2="143.02" stroke="#000" stroke-width="1.1"/><line x1="344.70" y1="143.02" x2="341.20" y2="143.02" stroke="#000" stroke-width="1.1"/><line x1="206.30" y1="129.74" x2="209.80" y2="129.74" stroke="#000" stroke-width="1.1"/><line x1="344.70" y1="129.74" x2="341.20" y2="129.74" stroke="#000" stroke-width="1.1"/><line x1="206.30" y1="116.46" x2="209.80" y2="116.46" stroke="#000" stroke-width="1.1"/><line x1="344.70" y1="116.46" x2="341.20" y2="116.46" stroke="#000" stroke-width="1.1"/><line x1="206.30" y1="103.18" x2="209.80" y2="103.18" stroke="#000" stroke-width="1.1"/><line x1="344.70" y1="103.18" x2="341.20" y2="103.18" stroke="#000" stroke-width="1.1"/><line x1="206.30" y1="89.90" x2="212.30" y2="89.90" stroke="#000" stroke-width="1.1"/><line x1="344.70" y1="89.90" x2="338.70" y2="89.90" stroke="#000" stroke-width="1.1"/><line x1="217.82" y1="189.80" x2="217.82" y2="186.30" stroke="#000" stroke-width="1.1"/><line x1="217.82" y1="83.60" x2="217.82" y2="87.10" stroke="#000" stroke-width="1.1"/><line x1="229.40" y1="189.80" x2="229.40" y2="183.80" stroke="#000" stroke-width="1.1"/><line x1="229.40" y1="83.60" x2="229.40" y2="89.60" stroke="#000" stroke-width="1.1"/><line x1="240.97" y1="189.80" x2="240.97" y2="186.30" stroke="#000" stroke-width="1.1"/><line x1="240.97" y1="83.60" x2="240.97" y2="87.10" stroke="#000" stroke-width="1.1"/><line x1="252.55" y1="189.80" x2="252.55" y2="186.30" stroke="#000" stroke-width="1.1"/><line x1="252.55" y1="83.60" x2="252.55" y2="87.10" stroke="#000" stroke-width="1.1"/><line x1="264.12" y1="189.80" x2="264.12" y2="186.30" stroke="#000" stroke-width="1.1"/><line x1="264.12" y1="83.60" x2="264.12" y2="87.10" stroke="#000" stroke-width="1.1"/><line x1="275.70" y1="189.80" x2="275.70" y2="183.80" stroke="#000" stroke-width="1.1"/><line x1="275.70" y1="83.60" x2="275.70" y2="89.60" stroke="#000" stroke-width="1.1"/><line x1="287.27" y1="189.80" x2="287.27" y2="186.30" stroke="#000" stroke-width="1.1"/><line x1="287.27" y1="83.60" x2="287.27" y2="87.10" stroke="#000" stroke-width="1.1"/><line x1="298.85" y1="189.80" x2="298.85" y2="186.30" stroke="#000" stroke-width="1.1"/><line x1="298.85" y1="83.60" x2="298.85" y2="87.10" stroke="#000" stroke-width="1.1"/><line x1="310.42" y1="189.80" x2="310.42" y2="186.30" stroke="#000" stroke-width="1.1"/><line x1="310.42" y1="83.60" x2="310.42" y2="87.10" stroke="#000" stroke-width="1.1"/><line x1="322.00" y1="189.80" x2="322.00" y2="183.80" stroke="#000" stroke-width="1.1"/><line x1="322.00" y1="83.60" x2="322.00" y2="89.60" stroke="#000" stroke-width="1.1"/><line x1="333.57" y1="189.80" x2="333.57" y2="186.30" stroke="#000" stroke-width="1.1"/><line x1="333.57" y1="83.60" x2="333.57" y2="87.10" stroke="#000" stroke-width="1.1"/><text x="36.3" y="28.39" font-family="Liberation Sans, sans-serif" font-size="13" font-weight="normal" text-anchor="end" stroke="#000" stroke-width="0.25">3</text><text x="36.3" y="75.17" font-family="Liberation Sans, sans-serif" font-size="13" font-weight="normal" text-anchor="end" stroke="#000" stroke-width="0.25">2</text><text x="36.3" y="121.95" font-family="Liberation Sans, sans-serif" font-size="13" font-weight="normal" text-anchor="end" stroke="#000" stroke-width="0.25">1</text><text x="36.3" y="168.73000000000002" font-family="Liberation Sans, sans-serif" font-size="13" font-weight="normal" text-anchor="end" stroke="#000" stroke-width="0.25">0</text><text x="36.3" y="215.51" font-family="Liberation Sans, sans-serif" font-size="13" font-weight="normal" text-anchor="end" stroke="#000" stroke-width="0.25">&#8722;1</text><text x="36.3" y="262.29" font-family="Liberation Sans, sans-serif" font-size="13" font-weight="normal" text-anchor="end" stroke="#000" stroke-width="0.25">&#8722;2</text><text x="36.3" y="309.07" font-family="Liberation Sans, sans-serif" font-size="13" font-weight="normal" text-anchor="end" stroke="#000" stroke-width="0.25">&#8722;3</text><text x="43.0" y="329.4" font-family="Liberation Sans, sans-serif" font-size="13" font-weight="normal" text-anchor="middle" stroke="#000" stroke-width="0.25">3.8</text><text x="140.99999999999966" y="329.4" font-family="Liberation Sans, sans-serif" font-size="13" font-weight="normal" text-anchor="middle" stroke="#000" stroke-width="0.25">3.7</text><text x="238.99999999999974" y="329.4" font-family="Liberation Sans, sans-serif" font-size="13" font-weight="normal" text-anchor="middle" stroke="#000" stroke-width="0.25">3.6</text><text x="336.99999999999983" y="329.4" font-family="Liberation Sans, sans-serif" font-size="13" font-weight="normal" text-anchor="middle" stroke="#000" stroke-width="0.25">3.5</text><text x="178.3" y="344.0" font-family="Liberation Serif, serif" font-size="13" stroke="#000" stroke-width="0.35" textLength="30.2" lengthAdjust="spacing">log(T</text><text x="209.2" y="347.0" font-family="Liberation Serif, serif" font-size="7.6" stroke="#000" stroke-width="0.35" style="font-variant-ligatures:none" letter-spacing="0.25">eff</text><text x="217.6" y="344.0" font-family="Liberation Serif, serif" font-size="13" stroke="#000" stroke-width="0.35">)</text><g transform="translate(9.8,186.0) rotate(-90)"><text x="0.2" y="0" font-family="Liberation Serif, serif" font-size="13" stroke="#000" stroke-width="0.35" textLength="44.6" lengthAdjust="spacing">log(L/L</text><circle cx="47.8" cy="1.2" r="2.6" fill="none" stroke="#000" stroke-width="0.9"/><circle cx="47.8" cy="1.2" r="0.7" fill="#000"/><text x="50.9" y="0" font-family="Liberation Serif, serif" font-size="13" stroke="#000" stroke-width="0.35">)</text></g><text x="52.70" y="19.9" font-family="Liberation Sans, sans-serif" font-size="8.6" font-weight="bold" textLength="20.60" lengthAdjust="spacing" >solid</text><text x="89.70" y="19.9" font-family="Liberation Sans, sans-serif" font-size="8.6" font-weight="bold" textLength="33.90" lengthAdjust="spacing" >present</text><text x="128.00" y="19.9" font-family="Liberation Sans, sans-serif" font-size="8.6" font-weight="bold" textLength="21.10" lengthAdjust="spacing" >work</text><text x="52.70" y="33.6" font-family="Liberation Sans, sans-serif" font-size="8.6" font-weight="bold" textLength="23.80" lengthAdjust="spacing" >dash:</text><text x="81.60" y="33.6" font-family="Liberation Sans, sans-serif" font-size="8.6" font-weight="bold" textLength="23.30" lengthAdjust="spacing" >BaSTI</text><text x="109.60" y="33.6" font-family="Liberation Sans, sans-serif" font-size="8.6" font-weight="bold" textLength="56.00" lengthAdjust="spacing" >(Pietrinferni</text><text x="170.60" y="33.6" font-family="Liberation Sans, sans-serif" font-size="8.6" font-weight="bold" textLength="8.90" lengthAdjust="spacing" >et</text><text x="183.40" y="33.6" font-family="Liberation Sans, sans-serif" font-size="8.6" font-weight="bold" textLength="11.00" lengthAdjust="spacing" >al.</text><text x="198.10" y="33.6" font-family="Liberation Sans, sans-serif" font-size="8.6" font-weight="bold" textLength="25.30" lengthAdjust="spacing" >2006)</text><rect x="79.0" y="16.3" width="5.0" height="1.7" fill="#000"/><text x="62.40" y="300.4" font-family="Liberation Serif, serif" font-size="10.4" font-weight="normal" textLength="65.30" lengthAdjust="spacing" stroke="#000" stroke-width="0.15">[Fe/H]=&#8722;0.7;</text><text x="132.50" y="300.4" font-family="Liberation Serif, serif" font-size="10.4" font-weight="normal" textLength="19.30" lengthAdjust="spacing" stroke="#000" stroke-width="0.15">age:</text><text x="158.20" y="300.4" font-family="Liberation Serif, serif" font-size="10.4" font-weight="normal" textLength="13.60" lengthAdjust="spacing" stroke="#000" stroke-width="0.15">10,</text><text x="176.50" y="300.4" font-family="Liberation Serif, serif" font-size="10.4" font-weight="normal" textLength="29.90" lengthAdjust="spacing" stroke="#000" stroke-width="0.15">14Gyr</text><text x="187.0" y="93.3" font-family="Liberation Sans, sans-serif" font-size="10" font-weight="bold" textLength="14.2" lengthAdjust="spacing">0.5</text><text x="201.4" y="159.8" font-family="Liberation Sans, sans-serif" font-size="10" font-weight="bold" text-anchor="end">0</text><text x="219.50" y="201.7" font-family="Liberation Sans, sans-serif" font-size="10" font-weight="bold" textLength="19.8" lengthAdjust="spacing">3.78</text><text x="265.80" y="201.7" font-family="Liberation Sans, sans-serif" font-size="10" font-weight="bold" textLength="19.8" lengthAdjust="spacing">3.76</text><text x="312.10" y="201.7" font-family="Liberation Sans, sans-serif" font-size="10" font-weight="bold" textLength="19.8" lengthAdjust="spacing">3.74</text></svg>
</body></html>
